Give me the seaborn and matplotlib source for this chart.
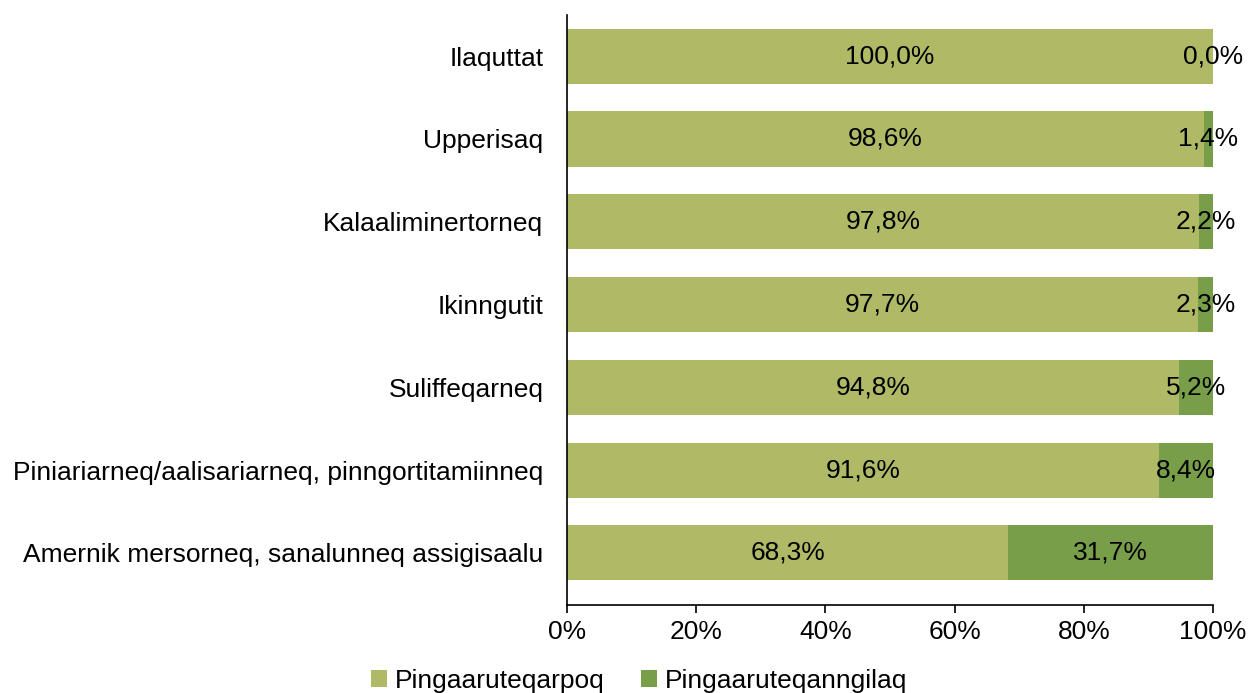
import matplotlib
matplotlib.use("Agg")
import matplotlib.pyplot as plt
from matplotlib.patches import Patch
from matplotlib.ticker import FuncFormatter
import seaborn as sns
import pandas as pd

categories = [
    "Ilaquttat",
    "Upperisaq",
    "Kalaaliminertorneq",
    "Ikinngutit",
    "Suliffeqarneq",
    "Piniariarneq/aalisariarneq, pinngortitamiinneq",
    "Amernik mersorneq, sanalunneq assigisaalu",
]
high_values = [100.0, 98.6, 97.8, 97.7, 94.8, 91.6, 68.3]
low_values = [0.0, 1.4, 2.2, 2.3, 5.2, 8.4, 31.7]
series_names = ["Pingaaruteqarpoq", "Pingaaruteqanngilaq"]

light_green = "#AFB966"
dark_green = "#789E4A"
FS = 19

sns.set_theme(style="white")
plt.rcParams["font.family"] = ["Liberation Sans", "DejaVu Sans"]
plt.rcParams["text.color"] = "black"

df = pd.DataFrame({"category": categories, "high": high_values, "low": low_values})
df["total"] = df["high"] + df["low"]

fig = plt.figure(figsize=(12.48, 6.93), dpi=100)
ax = fig.add_axes([0.4543, 0.127, 0.972 - 0.4543, 0.978 - 0.127])

# Stacked bars: full total in dark, first series drawn on top
sns.barplot(data=df, x="total", y="category", color=dark_green, width=0.665,
            saturation=1, ax=ax, orient="h", linewidth=0)
sns.barplot(data=df, x="high", y="category", color=light_green, width=0.665,
            saturation=1, ax=ax, orient="h", linewidth=0)

fmt = lambda v: f"{v:.1f}%".replace(".", ",")
for i, (h, l) in enumerate(zip(high_values, low_values)):
    ax.text(h / 2, i, fmt(h), ha="center", va="center", fontsize=FS, color="black")
    ax.text(h + l / 2, i, fmt(l), ha="center", va="center", fontsize=FS, color="black")

ax.set_xlim(0, 100)
ax.set_ylim(6.63, -0.495)
ax.set_xticks([0, 20, 40, 60, 80, 100])
ax.xaxis.set_major_formatter(FuncFormatter(lambda v, p: f"{v:.0f}%"))
ax.set_xlabel("")
ax.set_ylabel("")

for s in ["top", "right"]:
    ax.spines[s].set_visible(False)
for s in ["left", "bottom"]:
    ax.spines[s].set_color("black")
    ax.spines[s].set_linewidth(1.2)

ax.tick_params(axis="x", which="both", bottom=True, direction="out", length=6,
               width=1.2, color="black", labelsize=FS, pad=5, labelcolor="black")
ax.tick_params(axis="y", left=False, labelsize=FS, pad=11, labelcolor="black")

handles = [Patch(facecolor=light_green, edgecolor="none"),
           Patch(facecolor=dark_green, edgecolor="none")]
leg = fig.legend(handles, series_names, loc="center", bbox_to_anchor=(0.512, 0.018),
                 ncol=2, frameon=False, fontsize=FS, handlelength=0.6, handleheight=0.6,
                 handletextpad=0.3, columnspacing=1.4)
for t in leg.get_texts():
    t.set_color("black")

fig.savefig("out.png", dpi=100)
